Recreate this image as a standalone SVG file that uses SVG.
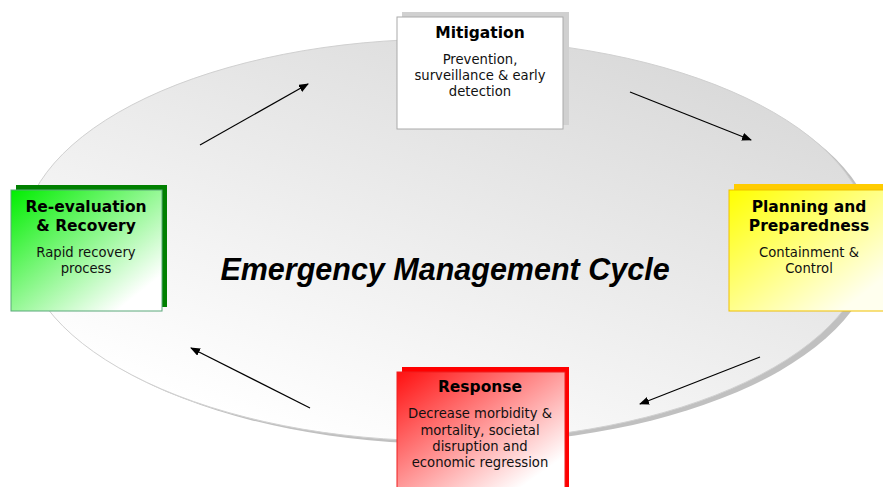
<svg xmlns="http://www.w3.org/2000/svg" width="883" height="487" viewBox="0 0 883 487">
<defs>
<linearGradient id="ell" x1="0.8" y1="0.1" x2="0.2" y2="0.9">
<stop offset="0" stop-color="#dadada"/>
<stop offset="1" stop-color="#ffffff"/>
</linearGradient>
<linearGradient id="gGreen" x1="0" y1="0" x2="1" y2="1">
<stop offset="0" stop-color="#00ee00"/>
<stop offset="0.85" stop-color="#ffffff"/>
</linearGradient>
<linearGradient id="gYellow" x1="0" y1="0" x2="1" y2="1">
<stop offset="0" stop-color="#ffff00"/>
<stop offset="0.85" stop-color="#ffffee"/>
</linearGradient>
<linearGradient id="gRed" x1="0" y1="0" x2="1" y2="1">
<stop offset="0" stop-color="#ff1010"/>
<stop offset="0.85" stop-color="#ffffff"/>
</linearGradient>
<marker id="ah" markerWidth="10" markerHeight="8" refX="9" refY="4" orient="auto" markerUnits="userSpaceOnUse">
<path d="M0,0 L10,4 L0,8 Z" fill="#000"/>
</marker>
</defs>
<style>
.t{font-family:"DejaVu Sans",Verdana,sans-serif;font-size:15.5px;font-weight:bold;fill:#000;text-anchor:middle}
.b{font-family:"DejaVu Sans",Verdana,sans-serif;font-size:13.2px;fill:#111;text-anchor:middle}
.c{stroke:#000;stroke-width:1.2;fill:none;marker-end:url(#ah)}
</style>
<rect width="883" height="487" fill="#fff"/>
<g id="cycle">
<ellipse cx="452" cy="244" rx="424" ry="200" fill="#c0c0c0"/>
<ellipse cx="446" cy="240" rx="424" ry="201" fill="url(#ell)" stroke="#d0d0d0" stroke-width="1"/>
<text x="445" y="280" font-family="'Liberation Sans',Arial,sans-serif" font-size="30.5" font-weight="bold" font-style="italic" text-anchor="middle" fill="#000">Emergency Management Cycle</text>
</g>
<g id="connectors">
<line class="c" x1="200" y1="145" x2="308" y2="84"/>
<line class="c" x1="630" y1="92" x2="751" y2="140"/>
<line class="c" x1="760" y1="357" x2="640" y2="404"/>
<line class="c" x1="310" y1="408" x2="191" y2="348"/>
</g>
<g id="mitigation">
<rect x="402" y="12" width="167" height="113" fill="#d0d0d0"/>
<rect x="397" y="17" width="166" height="112" fill="#fff" stroke="#aaa" stroke-width="1"/>
<text class="t" x="480" y="38">Mitigation</text>
<text class="b" x="480" y="64">Prevention,</text>
<text class="b" x="480" y="80">surveillance &amp; early</text>
<text class="b" x="480" y="96">detection</text>
</g>
<g id="planning">
<rect x="734" y="184" width="160" height="122" fill="#ffcc00"/>
<rect x="729" y="190" width="160" height="121" fill="url(#gYellow)" stroke="#f0c000" stroke-width="1"/>
<text class="t" x="809" y="212">Planning and</text>
<text class="t" x="809" y="231">Preparedness</text>
<text class="b" x="809" y="257">Containment &amp;</text>
<text class="b" x="809" y="273">Control</text>
</g>
<g id="reevaluation">
<rect x="16" y="185" width="151" height="122" fill="#008000"/>
<rect x="11" y="190" width="151" height="121" fill="url(#gGreen)" stroke="#5aa87a" stroke-width="1"/>
<text class="t" x="86" y="212">Re-evaluation</text>
<text class="t" x="86" y="231">&amp; Recovery</text>
<text class="b" x="86" y="257">Rapid recovery</text>
<text class="b" x="86" y="273">process</text>
</g>
<g id="response">
<rect x="402" y="367" width="167" height="125" fill="#ff0000"/>
<rect x="397" y="372" width="168" height="120" fill="url(#gRed)" stroke="#ee2020" stroke-width="1"/>
<text class="t" x="480" y="392">Response</text>
<text class="b" x="480" y="418">Decrease morbidity &amp;</text>
<text class="b" x="480" y="435">mortality, societal</text>
<text class="b" x="480" y="451">disruption and</text>
<text class="b" x="480" y="467">economic regression</text>
</g>
</svg>
